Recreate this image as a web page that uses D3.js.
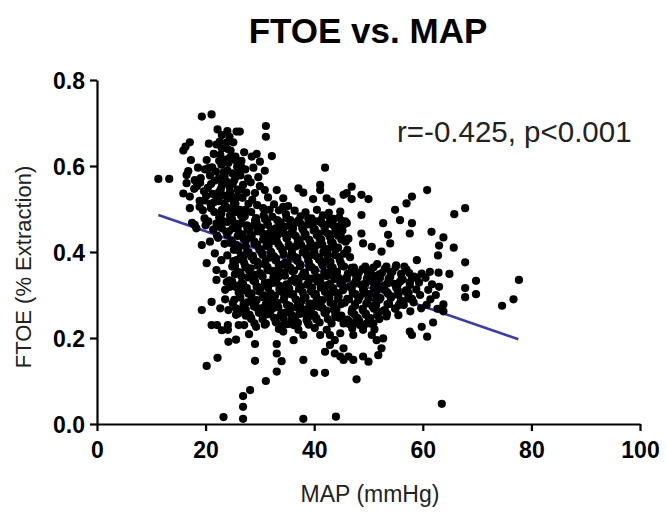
<!DOCTYPE html>
<html><head><meta charset="utf-8">
<script src="https://cdn.jsdelivr.net/npm/d3@7"></script>
<style>body{margin:0;background:#fff}</style>
</head><body>
<svg id="chart" width="667" height="519"></svg>
<script>
const titleText = "FTOE vs. MAP";
const xLabel = "MAP (mmHg)";
const yLabel = "FTOE (% Extraction)";
const annotation = "r=-0.425, p<0.001";
const xTicks = [0, 20, 40, 60, 80, 100];
const yTicks = [0.0, 0.2, 0.4, 0.6, 0.8];
const fitLine = [[11.3, 0.486], [77.6, 0.197]];

// points  [MAP, FTOE]
const points = [
[11.3,0.570],[13.3,0.570],[16.3,0.645],[15.9,0.636],[17.1,0.655],[17.3,0.614],[16.8,0.588],[16.5,0.579],[18.0,0.567],[16.5,0.560],[17.9,0.547],[15.9,0.536],[17.1,0.529],[17.1,0.502],[17.5,0.468],
[19.3,0.715],[18.6,0.596],[19.1,0.572],[18.4,0.553],[19.7,0.541],[18.9,0.519],[19.5,0.497],[18.0,0.463],[19.8,0.478],[18.3,0.455],[19.3,0.416],[19.3,0.265],[20.2,0.135],
[21.1,0.720],[20.6,0.652],[21.5,0.628],[20.2,0.614],[21.2,0.597],[20.8,0.578],[21.7,0.566],[20.4,0.549],[21.3,0.535],[20.9,0.512],[21.6,0.493],[20.5,0.471],[21.4,0.452],[20.8,0.424],[21.7,0.397],[20.2,0.374],[22.0,0.358],[22.0,0.335],[21.1,0.284],[21.1,0.230],[22.2,0.154],
[22.2,0.685],[23.0,0.672],[22.6,0.657],[23.0,0.641],[22.7,0.626],[23.8,0.615],[22.9,0.603],[23.3,0.585],[22.5,0.571],[23.9,0.563],[22.8,0.546],[23.4,0.531],[22.4,0.518],[23.7,0.504],[22.9,0.489],[23.2,0.472],[22.6,0.458],[23.8,0.447],[22.3,0.433],[23.5,0.419],[22.9,0.381],[23.3,0.349],[23.9,0.330],[23.6,0.312],[23.6,0.290],[22.7,0.269],[22.1,0.230],[23.0,0.218],[24.2,0.191],[23.3,0.016],
[24.0,0.681],[25.7,0.680],[24.4,0.668],[25.1,0.655],[24.6,0.636],[25.5,0.622],[25.4,0.614],[24.2,0.607],[25.8,0.598],[24.9,0.583],[25.3,0.567],[24.4,0.552],[25.9,0.545],[24.7,0.531],[25.2,0.515],[24.1,0.502],[25.6,0.493],[24.8,0.478],[25.4,0.462],[24.3,0.448],[25.9,0.437],[24.6,0.421],[25.2,0.405],[24.0,0.392],[25.7,0.381],[24.9,0.366],[25.4,0.348],[24.4,0.334],[25.8,0.321],[24.5,0.319],[25.3,0.289],[24.2,0.265],[25.6,0.254],[24.1,0.230],[24.1,0.219],[26.1,0.230],[25.6,0.196],
[26.3,0.680],[27.1,0.632],[26.6,0.612],[27.3,0.592],[26.4,0.578],[27.8,0.571],[26.9,0.556],[27.5,0.538],[26.8,0.526],[27.9,0.512],[26.3,0.498],[27.3,0.498],[27.2,0.483],[26.5,0.466],[27.7,0.455],[26.8,0.441],[27.4,0.426],[26.1,0.412],[27.6,0.398],[26.9,0.384],[27.3,0.367],[26.4,0.352],[27.8,0.341],[26.6,0.327],[27.1,0.311],[26.3,0.296],[27.7,0.283],[26.8,0.268],[27.4,0.252],[27.1,0.230],[28.0,0.209],[26.9,0.065],[26.9,0.040],[26.9,0.012],[28.2,0.079],
[28.5,0.622],[29.4,0.628],[30.0,0.610],[28.8,0.596],[29.7,0.574],[28.3,0.562],[30.0,0.553],[29.1,0.537],[28.6,0.521],[29.5,0.509],[28.4,0.493],[29.3,0.479],[28.9,0.462],[29.6,0.448],[28.2,0.434],[29.0,0.419],[29.9,0.405],[28.7,0.391],[29.5,0.377],[28.3,0.362],[29.2,0.347],[28.8,0.333],[29.7,0.318],[28.5,0.304],[29.4,0.288],[28.9,0.273],[29.8,0.259],[28.4,0.244],[29.3,0.226],[29.1,0.186],[29.1,0.147],
[31.1,0.693],[31.1,0.668],[30.9,0.589],[30.9,0.544],[31.5,0.527],[30.6,0.502],[31.8,0.498],[30.7,0.485],[31.3,0.471],[30.2,0.457],[31.7,0.443],[30.6,0.429],[31.2,0.414],[30.3,0.399],[31.9,0.387],[30.8,0.372],[31.4,0.358],[30.5,0.343],[31.6,0.329],[30.1,0.315],[31.0,0.299],[31.8,0.284],[30.6,0.270],[31.3,0.255],[31.1,0.233],[31.1,0.100],
[32.2,0.623],[33.1,0.544],[32.6,0.511],[33.5,0.497],[32.3,0.482],[33.8,0.469],[32.9,0.455],[33.3,0.440],[32.5,0.426],[33.7,0.412],[32.1,0.398],[33.0,0.384],[33.9,0.370],[32.7,0.356],[33.4,0.342],[32.4,0.328],[33.6,0.313],[32.8,0.298],[33.2,0.282],[32.3,0.268],[33.8,0.252],[32.9,0.238],[33.5,0.221],[33.1,0.186],[33.1,0.164],[33.1,0.122],
[34.3,0.525],[34.3,0.505],[35.2,0.507],[34.8,0.488],[35.6,0.474],[34.5,0.459],[35.9,0.446],[34.9,0.432],[35.3,0.417],[34.2,0.403],[35.7,0.389],[34.6,0.375],[35.1,0.361],[34.0,0.347],[35.8,0.333],[34.7,0.318],[35.4,0.303],[34.4,0.289],[35.5,0.274],[34.8,0.259],[35.9,0.243],[34.3,0.230],[34.3,0.215],[34.0,0.146],
[37.1,0.548],[38.0,0.538],[36.4,0.496],[37.5,0.483],[36.8,0.469],[37.8,0.455],[36.2,0.441],[37.3,0.427],[36.6,0.413],[37.9,0.399],[36.9,0.385],[37.4,0.371],[36.3,0.357],[37.7,0.343],[36.7,0.329],[37.2,0.314],[36.1,0.300],[37.6,0.285],[36.8,0.271],[37.3,0.256],[36.5,0.241],[36.2,0.230],[37.1,0.219],[38.0,0.207],[36.2,0.195],[38.0,0.149],[38.0,0.012],
[39.8,0.523],[38.4,0.492],[39.5,0.478],[38.8,0.464],[39.9,0.450],[38.2,0.436],[39.3,0.422],[38.6,0.408],[39.7,0.394],[38.9,0.380],[39.1,0.366],[38.3,0.352],[39.6,0.338],[38.7,0.324],[39.4,0.309],[38.1,0.295],[39.8,0.280],[38.5,0.266],[39.2,0.251],[38.8,0.236],[40.1,0.223],[40.0,0.119],
[41.1,0.556],[41.1,0.544],[40.5,0.498],[41.6,0.485],[40.2,0.471],[41.9,0.457],[40.8,0.443],[41.3,0.429],[40.4,0.415],[41.7,0.401],[40.9,0.387],[41.4,0.373],[40.1,0.359],[41.8,0.345],[40.6,0.331],[41.2,0.317],[40.3,0.302],[41.5,0.288],[40.7,0.273],[41.9,0.258],[40.4,0.243],[41.1,0.207],[42.0,0.119],
[42.0,0.596],[42.3,0.525],[43.2,0.517],[42.7,0.491],[43.6,0.477],[42.2,0.463],[43.9,0.449],[42.9,0.435],[43.4,0.421],[42.5,0.407],[43.8,0.393],[42.1,0.379],[43.1,0.365],[42.6,0.351],[43.7,0.337],[42.4,0.323],[43.3,0.308],[42.8,0.294],[43.5,0.279],[42.3,0.264],[43.9,0.249],[43.2,0.234],[42.3,0.219],[42.9,0.207],[43.8,0.195],[42.9,0.184],[42.0,0.168],[43.8,0.164],[44.0,0.017],
[45.4,0.533],[44.8,0.494],[44.6,0.480],[45.7,0.471],[44.3,0.459],[45.2,0.450],[44.9,0.438],[45.8,0.424],[44.4,0.410],[45.5,0.396],[44.7,0.382],[45.1,0.368],[44.2,0.354],[45.9,0.340],[44.8,0.326],[45.3,0.311],[44.5,0.297],[45.6,0.282],[44.1,0.267],[45.0,0.252],[45.4,0.234],[44.8,0.211],[45.4,0.176],[44.8,0.157],[45.4,0.149],
[46.9,0.552],[46.0,0.537],[46.9,0.523],[46.0,0.467],[46.3,0.431],[46.1,0.405],[46.6,0.388],[47.3,0.364],[46.2,0.349],[47.7,0.335],[46.6,0.320],[47.1,0.305],[46.4,0.290],[47.5,0.275],[46.9,0.260],[47.8,0.246],[46.3,0.240],[47.2,0.234],[47.2,0.207],[46.3,0.157],[47.2,0.149],[47.8,0.104],
[48.7,0.533],[50.0,0.523],[48.7,0.486],[48.7,0.443],[49.0,0.420],[49.4,0.366],[48.2,0.352],[49.7,0.338],[48.6,0.324],[49.2,0.310],[48.4,0.296],[49.8,0.282],[48.9,0.268],[49.5,0.254],[48.3,0.240],[49.7,0.234],[49.0,0.219],[49.0,0.157],[50.0,0.145],
[50.6,0.412],[51.6,0.372],[50.4,0.358],[51.2,0.344],[50.8,0.330],[51.8,0.316],[50.2,0.302],[51.4,0.288],[50.7,0.274],[51.9,0.260],[50.3,0.246],[50.9,0.234],[50.6,0.207],[51.5,0.195],[51.8,0.160],
[52.7,0.467],[53.6,0.440],[54.0,0.420],[52.4,0.401],[53.3,0.366],[52.5,0.351],[53.7,0.337],[52.9,0.322],[53.4,0.307],[52.2,0.293],[53.8,0.279],[52.8,0.264],[53.3,0.250],[52.7,0.199],[52.4,0.176],
[54.9,0.498],[55.8,0.474],[55.1,0.369],[54.4,0.354],[55.8,0.331],[54.8,0.326],[55.4,0.311],[54.3,0.297],[55.9,0.283],[54.9,0.268],[55.5,0.253],
[57.0,0.513],[58.0,0.467],[57.6,0.443],[56.6,0.366],[57.5,0.351],[58.0,0.339],[56.3,0.336],[57.6,0.323],[56.9,0.307],[57.3,0.292],[56.5,0.277],[57.7,0.262],[57.6,0.215],
[58.0,0.529],[58.9,0.381],[59.8,0.350],[58.4,0.343],[59.3,0.329],[58.8,0.313],[59.5,0.300],[58.3,0.283],[59.7,0.269],[58.0,0.207],[59.8,0.226],
[60.8,0.544],[61.6,0.447],[61.3,0.354],[60.5,0.340],[61.7,0.325],[61.0,0.312],[61.4,0.290],[60.7,0.277],[60.8,0.203],[61.9,0.236],
[63.8,0.434],[63.0,0.415],[62.8,0.392],[62.9,0.352],[63.0,0.319],[62.4,0.300],[63.8,0.278],[62.7,0.268],[63.8,0.262],[63.5,0.047],
[65.8,0.488],[67.8,0.502],[65.7,0.410],[64.9,0.349],[67.8,0.376],[67.8,0.316],[67.8,0.295],[69.8,0.333],[69.8,0.302],[74.6,0.275],[76.7,0.290],[77.7,0.335]
];

// estimated points filling the solid black core of the cloud  [MAP, FTOE]
const pointsDense = [
[19.9,0.592],[21.9,0.587],[24.0,0.590],[26.1,0.587],[19.0,0.561],[21.0,0.558],[23.0,0.556],[25.0,0.559],[20.1,0.530],[22.0,0.527],[24.1,0.525],[25.9,0.528],[18.9,0.505],[21.0,0.502],[23.0,0.498],[25.0,0.500],[20.0,0.462],[22.0,0.466],[24.0,0.470],[22.1,0.438],[24.0,0.440],[22.0,0.650],[24.0,0.640],[23.9,0.655],
[22.5,0.612],[24.5,0.620],[26.5,0.600],[23.5,0.575],[25.5,0.575],[22.5,0.540],[24.5,0.540],[26.5,0.545],[21.5,0.515],[23.5,0.512],[25.5,0.512],[22.5,0.480],[24.5,0.485],[26.5,0.485],[23.0,0.455],[25.0,0.455],[20.5,0.595],[19.8,0.520],
[24.9,0.474],[26.8,0.479],[29.1,0.473],[30.9,0.477],[33.2,0.474],[34.9,0.479],[37.1,0.473],[38.9,0.478],[41.2,0.474],[42.9,0.477],[45.1,0.472],
[25.9,0.453],[28.1,0.449],[29.9,0.454],[32.1,0.451],[34.0,0.448],[36.1,0.455],[38.0,0.450],[40.1,0.453],[42.0,0.447],[44.1,0.452],
[24.8,0.427],[27.0,0.431],[29.0,0.424],[31.2,0.429],[33.1,0.426],[35.0,0.432],[37.0,0.425],[39.1,0.428],[41.0,0.431],[43.1,0.424],[45.0,0.429],
[26.0,0.404],[27.9,0.400],[30.1,0.406],[32.0,0.401],[34.1,0.405],[35.9,0.399],[38.1,0.404],[40.0,0.402],[42.1,0.398],[43.9,0.405],
[25.1,0.379],[27.1,0.375],[28.9,0.381],[31.0,0.377],[32.9,0.380],[35.1,0.374],[36.9,0.379],[39.0,0.376],[40.9,0.382],[43.0,0.377],[44.9,0.375],
[25.9,0.354],[28.0,0.357],[30.0,0.351],[32.1,0.356],[33.9,0.352],[36.0,0.355],[38.0,0.350],[40.1,0.356],[41.9,0.353],[44.0,0.351],
[24.9,0.331],[26.9,0.326],[29.1,0.332],[30.9,0.328],[33.0,0.330],[34.9,0.325],[37.1,0.331],[38.9,0.327],[41.1,0.332],[42.9,0.326],[45.1,0.330],
[26.1,0.306],[27.9,0.303],[29.9,0.308],[32.0,0.304],[34.1,0.307],[36.1,0.302],[37.9,0.306],[40.0,0.301],[42.0,0.307],[44.1,0.305],
[25.0,0.281],[27.0,0.278],[29.0,0.283],[31.1,0.279],[33.0,0.282],[35.0,0.277],[37.0,0.283],[39.1,0.280],[40.9,0.276],[43.0,0.282],[45.0,0.279],
[26.0,0.257],[28.1,0.254],[30.0,0.259],[31.9,0.255],[34.0,0.258],[35.9,0.253],[38.1,0.257],[40.0,0.254],[42.1,0.259],[43.9,0.256],
[29.0,0.234],[30.9,0.231],[33.0,0.236],[35.1,0.232],[37.0,0.235],[39.0,0.231],[41.0,0.236],
[25.5,0.466],[27.6,0.462],[29.4,0.467],[31.5,0.463],[33.6,0.465],[35.4,0.461],[37.5,0.466],[39.6,0.463],[41.4,0.467],[43.5,0.462],[45.6,0.465],
[26.4,0.441],[28.5,0.438],[30.6,0.442],[32.4,0.439],[34.5,0.443],[36.6,0.437],[38.4,0.441],[40.5,0.439],[42.6,0.442],[44.4,0.438],
[25.6,0.416],[27.4,0.413],[29.5,0.417],[31.6,0.414],[33.4,0.418],[35.5,0.412],[37.6,0.416],[39.4,0.414],[41.5,0.417],[43.6,0.413],
[26.5,0.392],[28.4,0.389],[30.5,0.393],[32.6,0.390],[34.4,0.394],[36.5,0.388],[38.6,0.392],[40.4,0.390],[42.5,0.393],[44.6,0.389],
[25.4,0.367],[27.5,0.364],[29.6,0.368],[31.4,0.365],[33.5,0.369],[35.6,0.363],[37.4,0.367],[39.5,0.365],[41.6,0.368],[43.4,0.364],[45.5,0.366],
[26.6,0.343],[28.5,0.340],[30.4,0.344],[32.5,0.341],[34.6,0.345],[36.4,0.339],[38.5,0.343],[40.6,0.341],[42.4,0.344],[44.5,0.340],
[25.5,0.319],[27.6,0.316],[29.4,0.320],[31.5,0.317],[33.6,0.321],[35.4,0.315],[37.5,0.319],[39.6,0.317],[41.4,0.320],[43.5,0.316],[45.6,0.318],
[26.4,0.294],[28.5,0.291],[30.6,0.295],[32.4,0.292],[34.5,0.296],[36.6,0.290],[38.4,0.294],[40.5,0.292],[42.6,0.295],[44.4,0.291],
[25.6,0.269],[27.4,0.266],[29.5,0.270],[31.6,0.267],[33.4,0.271],[35.5,0.265],[37.6,0.269],[39.4,0.267],[41.5,0.270],[43.6,0.266],
[28.4,0.246],[30.5,0.243],[32.6,0.247],[34.4,0.244],[36.5,0.248],[38.6,0.242],[40.4,0.246],[42.5,0.244],[44.6,0.247],
[46.9,0.363],[48.9,0.360],[50.9,0.364],[53.0,0.361],[55.0,0.365],[57.0,0.359],
[46.0,0.338],[48.0,0.341],[50.0,0.336],[52.1,0.339],[54.0,0.342],[56.1,0.337],[58.9,0.340],
[46.9,0.315],[49.0,0.312],[51.0,0.316],[52.9,0.313],[55.1,0.317],[56.9,0.311],
[46.1,0.291],[48.1,0.288],[50.0,0.292],[52.0,0.289],[54.1,0.293],[56.0,0.287],[58.0,0.291],
[47.0,0.267],[49.0,0.264],[51.0,0.268],[53.0,0.265],[55.0,0.269],
[46.1,0.243],[48.0,0.246],[50.1,0.241],[52.0,0.244],
[47.0,0.222],[49.0,0.225],[51.1,0.220],
[47.5,0.350],[49.9,0.352],[52.0,0.348],[54.1,0.351],[56.0,0.349],
[47.4,0.326],[49.5,0.328],[51.6,0.324],[53.5,0.327],[55.4,0.325],[57.6,0.329],
[47.6,0.302],[49.4,0.304],[51.5,0.300],[53.6,0.303],[55.5,0.301],[57.4,0.305],
[47.5,0.278],[49.6,0.280],[51.4,0.276],[53.5,0.279],[55.6,0.277],
[47.4,0.255],[49.5,0.257],[51.6,0.253],[53.4,0.256],
[46.5,0.232],[48.4,0.230],[50.5,0.233]
];

const svg = d3.select("#chart");
const x = d3.scaleLinear().domain([0, 100]).range([97, 640]);
const y = d3.scaleLinear().domain([0, 0.8]).range([424, 80]);
const font = "'Liberation Sans', Arial, sans-serif";

svg.append("line")
  .attr("x1", x(fitLine[0][0])).attr("y1", y(fitLine[0][1]))
  .attr("x2", x(fitLine[1][0])).attr("y2", y(fitLine[1][1]))
  .attr("stroke", "#3a3fa6").attr("stroke-width", 2.6);

svg.append("g").selectAll("circle").data(points.concat(pointsDense)).join("circle")
  .attr("cx", d => x(d[0])).attr("cy", d => y(d[1]))
  .attr("r", 4.1).attr("fill", "#000");

const xAxis = svg.append("g").attr("transform", "translate(0,424)")
  .call(d3.axisBottom(x).tickValues(xTicks).tickSize(7).tickSizeOuter(0).tickFormat(d3.format("d")));
const yAxis = svg.append("g").attr("transform", "translate(97,0)")
  .call(d3.axisLeft(y).tickValues(yTicks).tickSize(7).tickSizeOuter(0).tickFormat(d3.format(".1f")));
[xAxis, yAxis].forEach(g => {
  g.select(".domain").attr("stroke", "#000").attr("stroke-width", 2.2);
  g.selectAll(".tick line").attr("stroke", "#000").attr("stroke-width", 2.2);
  g.selectAll(".tick text").attr("font-family", font).attr("font-size", 23)
    .attr("font-weight", "bold").attr("fill", "#000");
});
xAxis.selectAll(".tick text").attr("y", 34).attr("dy", 0);
yAxis.selectAll(".tick text").attr("x", -12).attr("dy", "0.35em");

svg.append("text").attr("x", 368).attr("y", 43).attr("text-anchor", "middle")
  .attr("font-family", font).attr("font-size", 35).attr("font-weight", "bold").text(titleText);
svg.append("text").attr("x", 370).attr("y", 502).attr("text-anchor", "middle")
  .attr("font-family", font).attr("font-size", 23).attr("fill", "#222").text(xLabel);
svg.append("text").attr("transform", "translate(31,267) rotate(-90)").attr("text-anchor", "middle")
  .attr("font-family", font).attr("font-size", 22).attr("fill", "#222").text(yLabel);
svg.append("text").attr("x", 397).attr("y", 142)
  .attr("font-family", font).attr("font-size", 29.5).attr("fill", "#222").text(annotation);
</script>
</body></html>
